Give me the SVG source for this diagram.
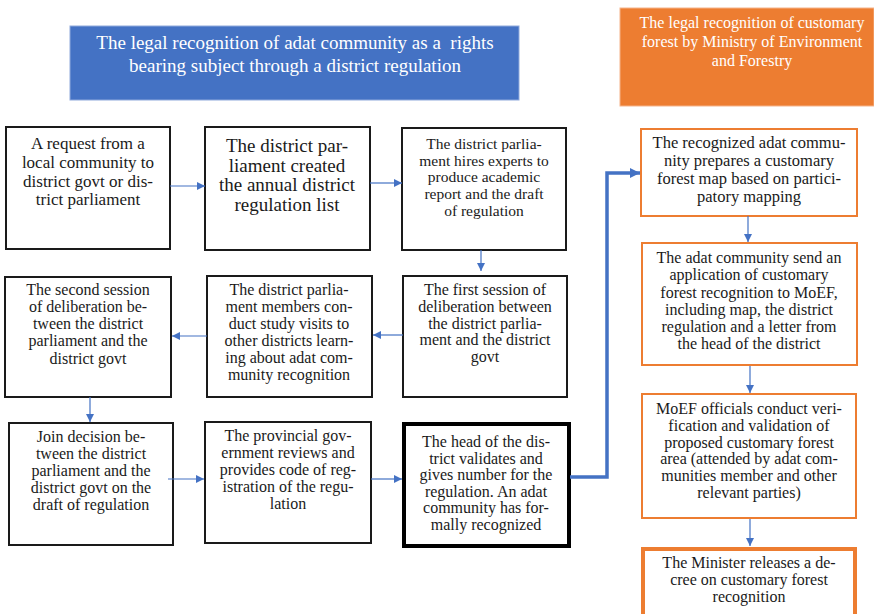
<svg xmlns="http://www.w3.org/2000/svg" width="874" height="614" viewBox="0 0 874 614">
<style>
.t{font-family:"Liberation Serif","Times New Roman",serif;fill:#1a1a1a;text-anchor:middle}
.h{font-family:"Liberation Serif","Times New Roman",serif;fill:#ffffff;text-anchor:middle;white-space:pre}
.bx{fill:#ffffff;stroke:#1a1a1a;stroke-width:2}
.ob{fill:#ffffff;stroke:#ED7D31;stroke-width:2}
.c{fill:none;stroke:#4472C4;stroke-width:1.2}
</style>
<defs>
<marker id="a" markerUnits="userSpaceOnUse" markerWidth="10" markerHeight="10" refX="8" refY="4" orient="auto">
<path d="M0,0 L8,4 L0,8 Z" fill="#4472C4"/>
</marker>
<marker id="b" markerUnits="userSpaceOnUse" markerWidth="12" markerHeight="12" refX="10" refY="5" orient="auto">
<path d="M0,0 L10,5 L0,10 Z" fill="#4472C4"/>
</marker>
</defs>
<rect width="874" height="614" fill="#ffffff"/>

<g id="header-blue">
<rect x="70" y="26" width="449" height="74" fill="#4472C4" stroke="#8fa9dc" stroke-width="1"/>
<text class="h" font-size="19" x="295" y="49" xml:space="preserve">The legal recognition of adat community as a  rights</text>
<text class="h" font-size="19" x="295" y="72">bearing subject through a district regulation</text>
</g>
<g id="header-orange">
<rect x="620" y="8" width="254" height="98" fill="#ED7D31" stroke="#f5b48a" stroke-width="1"/>
<text class="h" font-size="16" x="752" y="28">The legal recognition of customary</text>
<text class="h" font-size="16" x="752" y="47">forest by Ministry of Environment</text>
<text class="h" font-size="16" x="752" y="66">and Forestry</text>
</g>

<g id="n1">
<rect class="bx" x="6" y="127" width="164" height="122"/>
<g class="t" font-size="17">
<text x="88" y="149">A request from a</text>
<text x="88" y="168">local community to</text>
<text x="88" y="187">district govt or dis-</text>
<text x="88" y="205">trict parliament</text>
</g>
</g>
<g id="n2">
<rect class="bx" x="205" y="127" width="165" height="123"/>
<g class="t" font-size="19">
<text x="287" y="152">The district par-</text>
<text x="287" y="172">liament created</text>
<text x="287" y="191">the annual district</text>
<text x="287" y="211">regulation list</text>
</g>
</g>
<g id="n3">
<rect class="bx" x="402" y="128" width="164" height="122"/>
<g class="t" font-size="15.5">
<text x="484" y="149">The district parlia-</text>
<text x="484" y="166">ment hires experts to</text>
<text x="484" y="182">produce academic</text>
<text x="484" y="199">report and the draft</text>
<text x="484" y="216">of regulation</text>
</g>
</g>
<g id="n4">
<rect class="bx" x="5" y="277" width="166" height="120"/>
<g class="t" font-size="16">
<text x="88" y="295">The second session</text>
<text x="88" y="312">of deliberation be-</text>
<text x="88" y="329">tween the district</text>
<text x="88" y="346">parliament and the</text>
<text x="88" y="364">district govt</text>
</g>
</g>
<g id="n5">
<rect class="bx" x="207" y="276" width="165" height="121"/>
<g class="t" font-size="16">
<text x="289" y="295">The district parlia-</text>
<text x="289" y="312">ment members con-</text>
<text x="289" y="329">duct study visits to</text>
<text x="289" y="346">other districts learn-</text>
<text x="289" y="363">ing about adat com-</text>
<text x="289" y="380">munity recognition</text>
</g>
</g>
<g id="n6">
<rect class="bx" x="403" y="276" width="164" height="121"/>
<g class="t" font-size="16">
<text x="485" y="295">The first session of</text>
<text x="485" y="312">deliberation between</text>
<text x="485" y="329">the district parlia-</text>
<text x="485" y="345">ment and the district</text>
<text x="485" y="362">govt</text>
</g>
</g>
<g id="n7">
<rect class="bx" x="9" y="423" width="164" height="122"/>
<g class="t" font-size="16">
<text x="91" y="442">Join decision be-</text>
<text x="91" y="459">tween the district</text>
<text x="91" y="476">parliament and the</text>
<text x="91" y="493">district govt on the</text>
<text x="91" y="510">draft of regulation</text>
</g>
</g>
<g id="n8">
<rect class="bx" x="205" y="422" width="166" height="121"/>
<g class="t" font-size="16">
<text x="288" y="441">The provincial gov-</text>
<text x="288" y="458">ernment reviews and</text>
<text x="288" y="475">provides code of reg-</text>
<text x="288" y="492">istration of the regu-</text>
<text x="288" y="509">lation</text>
</g>
</g>
<g id="n9">
<rect x="404" y="424" width="165" height="122" fill="#ffffff" stroke="#000000" stroke-width="4"/>
<g class="t" font-size="16">
<text x="486" y="447">The head of the dis-</text>
<text x="486" y="464">trict validates and</text>
<text x="486" y="480">gives number for the</text>
<text x="486" y="497">regulation. An adat</text>
<text x="486" y="513">community has for-</text>
<text x="486" y="530">mally recognized</text>
</g>
</g>

<g id="r1">
<rect class="ob" x="641" y="129" width="216" height="87"/>
<g class="t" font-size="16.5">
<text x="749" y="148">The recognized adat commu-</text>
<text x="749" y="166">nity prepares a customary</text>
<text x="749" y="184">forest map based on partici-</text>
<text x="749" y="202">patory mapping</text>
</g>
</g>
<g id="r2">
<rect class="ob" x="642" y="243" width="215" height="122"/>
<g class="t" font-size="16">
<text x="749" y="263">The adat community send an</text>
<text x="749" y="280">application of customary</text>
<text x="749" y="298">forest recognition to MoEF,</text>
<text x="749" y="315">including map, the district</text>
<text x="749" y="332">regulation and a letter from</text>
<text x="749" y="349">the head of the district</text>
</g>
</g>
<g id="r3">
<rect class="ob" x="642" y="394" width="214" height="124"/>
<g class="t" font-size="16">
<text x="749" y="414">MoEF officials conduct veri-</text>
<text x="749" y="431">fication and validation of</text>
<text x="749" y="448">proposed customary forest</text>
<text x="749" y="464">area (attended by adat com-</text>
<text x="749" y="481">munities member and other</text>
<text x="749" y="498">relevant parties)</text>
</g>
</g>
<g id="r4">
<rect x="643" y="549" width="212" height="80" fill="#ffffff" stroke="#ED7D31" stroke-width="4"/>
<g class="t" font-size="16">
<text x="749" y="568">The Minister releases a de-</text>
<text x="749" y="585">cree on customary forest</text>
<text x="749" y="602">recognition</text>
</g>
</g>

<g id="connectors">
<line class="c" x1="170" y1="186" x2="205" y2="186" marker-end="url(#a)"/>
<line class="c" x1="370" y1="183" x2="402" y2="183" marker-end="url(#a)"/>
<line class="c" x1="481" y1="250" x2="481" y2="271" marker-end="url(#a)"/>
<line class="c" x1="403" y1="335" x2="373" y2="335" marker-end="url(#a)"/>
<line class="c" x1="207" y1="336" x2="172" y2="336" marker-end="url(#a)"/>
<line class="c" x1="90" y1="397" x2="90" y2="422" marker-end="url(#a)"/>
<line class="c" x1="168" y1="479" x2="204" y2="479" marker-end="url(#a)"/>
<line class="c" x1="371" y1="479" x2="402" y2="479" marker-end="url(#a)"/>
<path d="M570,477 H607 V173 H640" fill="none" stroke="#4472C4" stroke-width="3.5" marker-end="url(#b)"/>
<line class="c" x1="748" y1="216" x2="748" y2="242" marker-end="url(#a)"/>
<line class="c" x1="750" y1="366" x2="750" y2="393" marker-end="url(#a)"/>
<line class="c" x1="750" y1="519" x2="750" y2="546" marker-end="url(#a)"/>
</g>
</svg>
